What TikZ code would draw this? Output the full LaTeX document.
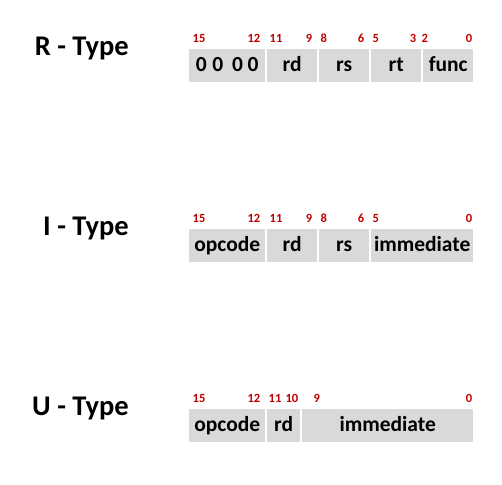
\documentclass[tikz,border=0pt]{standalone}
\usepackage{fontspec}
\setmainfont{Carlito}
\definecolor{cellgray}{HTML}{D9D9D9}
\definecolor{bitred}{HTML}{C00000}
\tikzset{
  cell/.style={fill=cellgray, inner sep=0pt, minimum height=33pt, text height=15pt, text depth=2.6pt,
    anchor=north west, font=\fontsize{21.5}{24}\selectfont\bfseries},
  bitl/.style={inner sep=0pt, anchor=base west, text=bitred, font=\fontsize{12.5}{14}\selectfont\bfseries},
  bitr/.style={inner sep=0pt, anchor=base east, text=bitred, font=\fontsize{12.5}{14}\selectfont\bfseries},
  title/.style={inner sep=0pt, anchor=base east, font=\fontsize{28.5}{31}\selectfont\bfseries}
}
\begin{document}
\begin{tikzpicture}[x=1pt,y=-1pt]
\useasboundingbox (0,0) rectangle (502,484);
% R-Type
\node[title] (rt) at (129,55.7) {R - Type};
\node[cell, minimum width=76pt] (r1) at (189,49) {0\hspace{5.5pt}0\hspace{9pt}0\hspace{4.5pt}0};
\node[cell, minimum width=50pt] (r2) at (267,49) {rd};
\node[cell, minimum width=50pt] (r3) at (319,49) {rs};
\node[cell, minimum width=50pt] (r4) at (371,49) {rt};
\node[cell, minimum width=50pt] (r5) at (423,49) {func};
\node[bitl] (rb15) at (192.5,42.3) {15};
\node[bitr] (rb12) at (260.5,42.3) {12};
\node[bitl] (rb11) at (269.5,42.3) {11};
\node[bitr] (rb9) at (312.5,42.3) {9};
\node[bitl] (rb8) at (320.5,42.3) {8};
\node[bitr] (rb6) at (364.5,42.3) {6};
\node[bitl] (rb5) at (372.5,42.3) {5};
\node[bitr] (rb3) at (416.5,42.3) {3};
\node[bitl] (rb2) at (421.5,42.3) {2};
\node[bitr] (rb0) at (472.5,42.3) {0};
% I-Type
\node[title] (it) at (129,235.7) {I - Type};
\node[cell, minimum width=76pt] (i1) at (189,229) {opcode};
\node[cell, minimum width=50pt] (i2) at (267,229) {rd};
\node[cell, minimum width=50pt] (i3) at (319,229) {rs};
\node[cell, minimum width=102pt] (i4) at (371,229) {immediate};
\node[bitl] (ib15) at (192.5,222.3) {15};
\node[bitr] (ib12) at (260.5,222.3) {12};
\node[bitl] (ib11) at (269.5,222.3) {11};
\node[bitr] (ib9) at (312.5,222.3) {9};
\node[bitl] (ib8) at (320.5,222.3) {8};
\node[bitr] (ib6) at (364.5,222.3) {6};
\node[bitl] (ib5) at (372.5,222.3) {5};
\node[bitr] (ib0) at (472.5,222.3) {0};
% U-Type
\node[title] (ut) at (129,415.7) {U - Type};
\node[cell, minimum width=76pt] (u1) at (189,409) {opcode};
\node[cell, minimum width=33pt] (u2) at (267,409) {rd};
\node[cell, minimum width=171pt] (u3) at (302,409) {immediate};
\node[bitl] (ub15) at (192.5,402.3) {15};
\node[bitr] (ub12) at (260.5,402.3) {12};
\node[bitl] (ub11) at (268.5,402.3) {11};
\node[bitr] (ub10) at (298.5,402.3) {10};
\node[bitl] (ub9) at (313.5,402.3) {9};
\node[bitr] (ub0) at (472.5,402.3) {0};
\end{tikzpicture}
\end{document}
